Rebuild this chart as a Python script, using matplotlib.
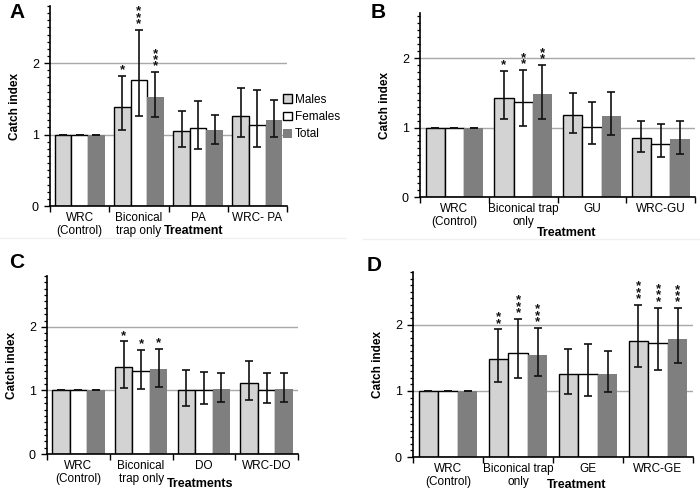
import matplotlib
matplotlib.use('Agg')
import matplotlib.pyplot as plt
import numpy as np
from matplotlib.ticker import MultipleLocator
from matplotlib.patches import Patch
from matplotlib.lines import Line2D

plt.rcParams['font.family'] = ['Liberation Sans', 'DejaVu Sans']

series = ['Males', 'Females', 'Total']

# ---- Panel A ----
a_cats = ['WRC\n(Control)', 'Biconical\ntrap only', 'PA', 'WRC- PA']
a_males = [1.00, 1.39, 1.05, 1.26]
a_males_lo = [1.00, 1.07, 0.82, 0.96]
a_males_hi = [1.00, 1.82, 1.33, 1.65]
a_fem = [1.00, 1.76, 1.09, 1.14]
a_fem_lo = [1.00, 1.26, 0.80, 0.82]
a_fem_hi = [1.00, 2.46, 1.47, 1.63]
a_tot = [1.00, 1.53, 1.07, 1.21]
a_tot_lo = [1.00, 1.24, 0.87, 0.97]
a_tot_hi = [1.00, 1.87, 1.27, 1.48]
a_sig_m = ['', '*', '', '']
a_sig_f = ['', '***', '', '']
a_sig_t = ['', '***', '', '']

# ---- Panel B ----
b_cats = ['WRC\n(Control)', 'Biconical trap\nonly', 'GU', 'WRC-GU']
b_males = [1.00, 1.43, 1.18, 0.85]
b_males_lo = [1.00, 1.13, 0.92, 0.65]
b_males_hi = [1.00, 1.82, 1.50, 1.09]
b_fem = [1.00, 1.37, 1.01, 0.77]
b_fem_lo = [1.00, 1.02, 0.76, 0.57]
b_fem_hi = [1.00, 1.83, 1.37, 1.05]
b_tot = [1.00, 1.48, 1.16, 0.84]
b_tot_lo = [1.00, 1.13, 0.89, 0.62]
b_tot_hi = [1.00, 1.90, 1.51, 1.10]
b_sig_m = ['', '*', '', '']
b_sig_f = ['', '**', '', '']
b_sig_t = ['', '**', '', '']

# ---- Panel C ----
c_cats = ['WRC\n(Control)', 'Biconical\ntrap only', 'DO', 'WRC-DO']
c_males = [1.00, 1.37, 1.00, 1.11]
c_males_lo = [1.00, 1.04, 0.75, 0.85]
c_males_hi = [1.00, 1.77, 1.32, 1.46]
c_fem = [1.00, 1.30, 1.00, 1.00]
c_fem_lo = [1.00, 1.03, 0.79, 0.80]
c_fem_hi = [1.00, 1.64, 1.29, 1.28]
c_tot = [1.00, 1.34, 1.03, 1.03]
c_tot_lo = [1.00, 1.06, 0.82, 0.82]
c_tot_hi = [1.00, 1.65, 1.28, 1.28]
c_sig_m = ['', '*', '', '']
c_sig_f = ['', '*', '', '']
c_sig_t = ['', '*', '', '']

# ---- Panel D ----
d_cats = ['WRC\n(Control)', 'Biconical trap\nonly', 'GE', 'WRC-GE']
d_males = [1.00, 1.48, 1.25, 1.76]
d_males_lo = [1.00, 1.13, 0.95, 1.36]
d_males_hi = [1.00, 1.93, 1.64, 2.30]
d_fem = [1.00, 1.58, 1.26, 1.72]
d_fem_lo = [1.00, 1.20, 0.93, 1.31]
d_fem_hi = [1.00, 2.09, 1.71, 2.26]
d_tot = [1.00, 1.54, 1.26, 1.79]
d_tot_lo = [1.00, 1.22, 0.99, 1.43]
d_tot_hi = [1.00, 1.95, 1.60, 2.25]
d_sig_m = ['', '**', '', '***']
d_sig_f = ['', '***', '', '***']
d_sig_t = ['', '***', '', '***']

colors = ['#d3d3d3', '#ffffff', '#7f7f7f']
edges = ['black', 'black', 'none']

fig = plt.figure(figsize=(7, 4.94), dpi=100)
W, H = 700.0, 494.0


def add_axes(left, right, bottom_px, top_px):
    return fig.add_axes([left / W, 1 - bottom_px / H, (right - left) / W, (bottom_px - top_px) / H])


def stars(ax, x, top, s):
    txt = '\n'.join(['*'] * len(s))
    ax.annotate(txt, xy=(x, top), xytext=(0, 2.0), textcoords='offset points',
                ha='center', va='baseline', fontsize=9.5, fontweight='bold',
                color='#111111', linespacing=0.38)


def panel(ax, cats, vals, los, his, sigs, ymax):
    x = np.arange(len(cats))
    w = 0.28
    for i in range(3):
        xi = x + (i - 1) * w
        v = np.array(vals[i])
        lo = np.array(los[i])
        hi = np.array(his[i])
        ax.bar(xi, v, width=w, color=colors[i], edgecolor=edges[i],
               linewidth=1.0 if edges[i] != 'none' else 0, zorder=2)
        ax.errorbar(xi, v, yerr=[v - lo, hi - v], fmt='none', ecolor='#111111',
                    elinewidth=1.2, capsize=3, capthick=1.2, zorder=3)
        for j in range(len(cats)):
            if sigs[i][j]:
                stars(ax, xi[j], hi[j], sigs[i][j])
    ax.set_xlim(-0.5, len(cats) - 0.5)
    ax.set_ylim(0, ymax)
    ax.set_yticks([0, 1, 2])
    ax.set_yticklabels(['0', '1', '2'], fontsize=9)
    ax.yaxis.set_minor_locator(MultipleLocator(0.1))
    ax.tick_params(axis='y', which='major', length=4, width=1.0, direction='out', pad=4)
    ax.tick_params(axis='y', which='minor', length=2.5, width=0.9, direction='out')
    ax.set_xticks(np.arange(len(cats) + 1) - 0.5)
    ax.set_xticklabels([])
    ax.set_xticks(x, cats, minor=True)
    ax.tick_params(axis='x', which='major', length=4, width=1.0, direction='out')
    ax.tick_params(axis='x', which='minor', length=0, labelsize=8.5, pad=4)
    ax.yaxis.grid(True, which='major', color='#a8a8a8', linewidth=1.0, zorder=0)
    ax.set_axisbelow(True)
    for sp in ['top', 'right']:
        ax.spines[sp].set_visible(False)
    ax.spines['left'].set_linewidth(1.2)
    ax.spines['bottom'].set_linewidth(1.2)
    ax.set_ylabel('Catch index', fontsize=8.5, fontweight='bold', labelpad=8)


axA = add_axes(50, 287, 206, 6)
panel(axA, a_cats, [a_males, a_fem, a_tot], [a_males_lo, a_fem_lo, a_tot_lo],
      [a_males_hi, a_fem_hi, a_tot_hi], [a_sig_m, a_sig_f, a_sig_t], 2.8)
axB = add_axes(420, 695, 197, 13)
panel(axB, b_cats, [b_males, b_fem, b_tot], [b_males_lo, b_fem_lo, b_tot_lo],
      [b_males_hi, b_fem_hi, b_tot_hi], [b_sig_m, b_sig_f, b_sig_t], 2.65)
axC = add_axes(47, 298, 454, 276)
panel(axC, c_cats, [c_males, c_fem, c_tot], [c_males_lo, c_fem_lo, c_tot_lo],
      [c_males_hi, c_fem_hi, c_tot_hi], [c_sig_m, c_sig_f, c_sig_t], 2.8)
axD = add_axes(413, 693, 457, 272)
panel(axD, d_cats, [d_males, d_fem, d_tot], [d_males_lo, d_fem_lo, d_tot_lo],
      [d_males_hi, d_fem_hi, d_tot_hi], [d_sig_m, d_sig_f, d_sig_t], 2.8)

# Legend in panel A
handles = [Patch(facecolor=colors[0], edgecolor='black', linewidth=1.0),
           Patch(facecolor=colors[1], edgecolor='black', linewidth=1.0),
           Patch(facecolor=colors[2], edgecolor='none')]
axA.legend(handles, series, loc='center left', bbox_to_anchor=(0.985, 0.445),
           frameon=False, fontsize=8.5, handlelength=0.75, handleheight=0.75,
           handletextpad=0.25, labelspacing=0.45, borderpad=0, borderaxespad=0)

# Axis titles ("Treatment")
fig.text(194 / W, 1 - 231 / H, 'Treatment', ha='center', va='center', fontsize=9, fontweight='bold')
fig.text(567 / W, 1 - 233 / H, 'Treatment', ha='center', va='center', fontsize=9, fontweight='bold')
fig.text(200 / W, 1 - 484 / H, 'Treatments', ha='center', va='center', fontsize=9, fontweight='bold')
fig.text(577 / W, 1 - 485 / H, 'Treatment', ha='center', va='center', fontsize=9, fontweight='bold')

# Panel letters
for lx, ly, lab in [(9, 3, 'A'), (371, 3, 'B'), (9, 253, 'C'), (367, 256, 'D')]:
    fig.text(lx / W, 1 - ly / H, lab, ha='left', va='top', fontsize=15, fontweight='bold')

# faint separator lines
fig.add_artist(Line2D([0.0, 345 / W], [1 - 238 / H, 1 - 238 / H], color='#f0f0f0', linewidth=1))
fig.add_artist(Line2D([363 / W, 1.0], [1 - 239 / H, 1 - 239 / H], color='#f0f0f0', linewidth=1))

fig.savefig('out.png', dpi=100)
